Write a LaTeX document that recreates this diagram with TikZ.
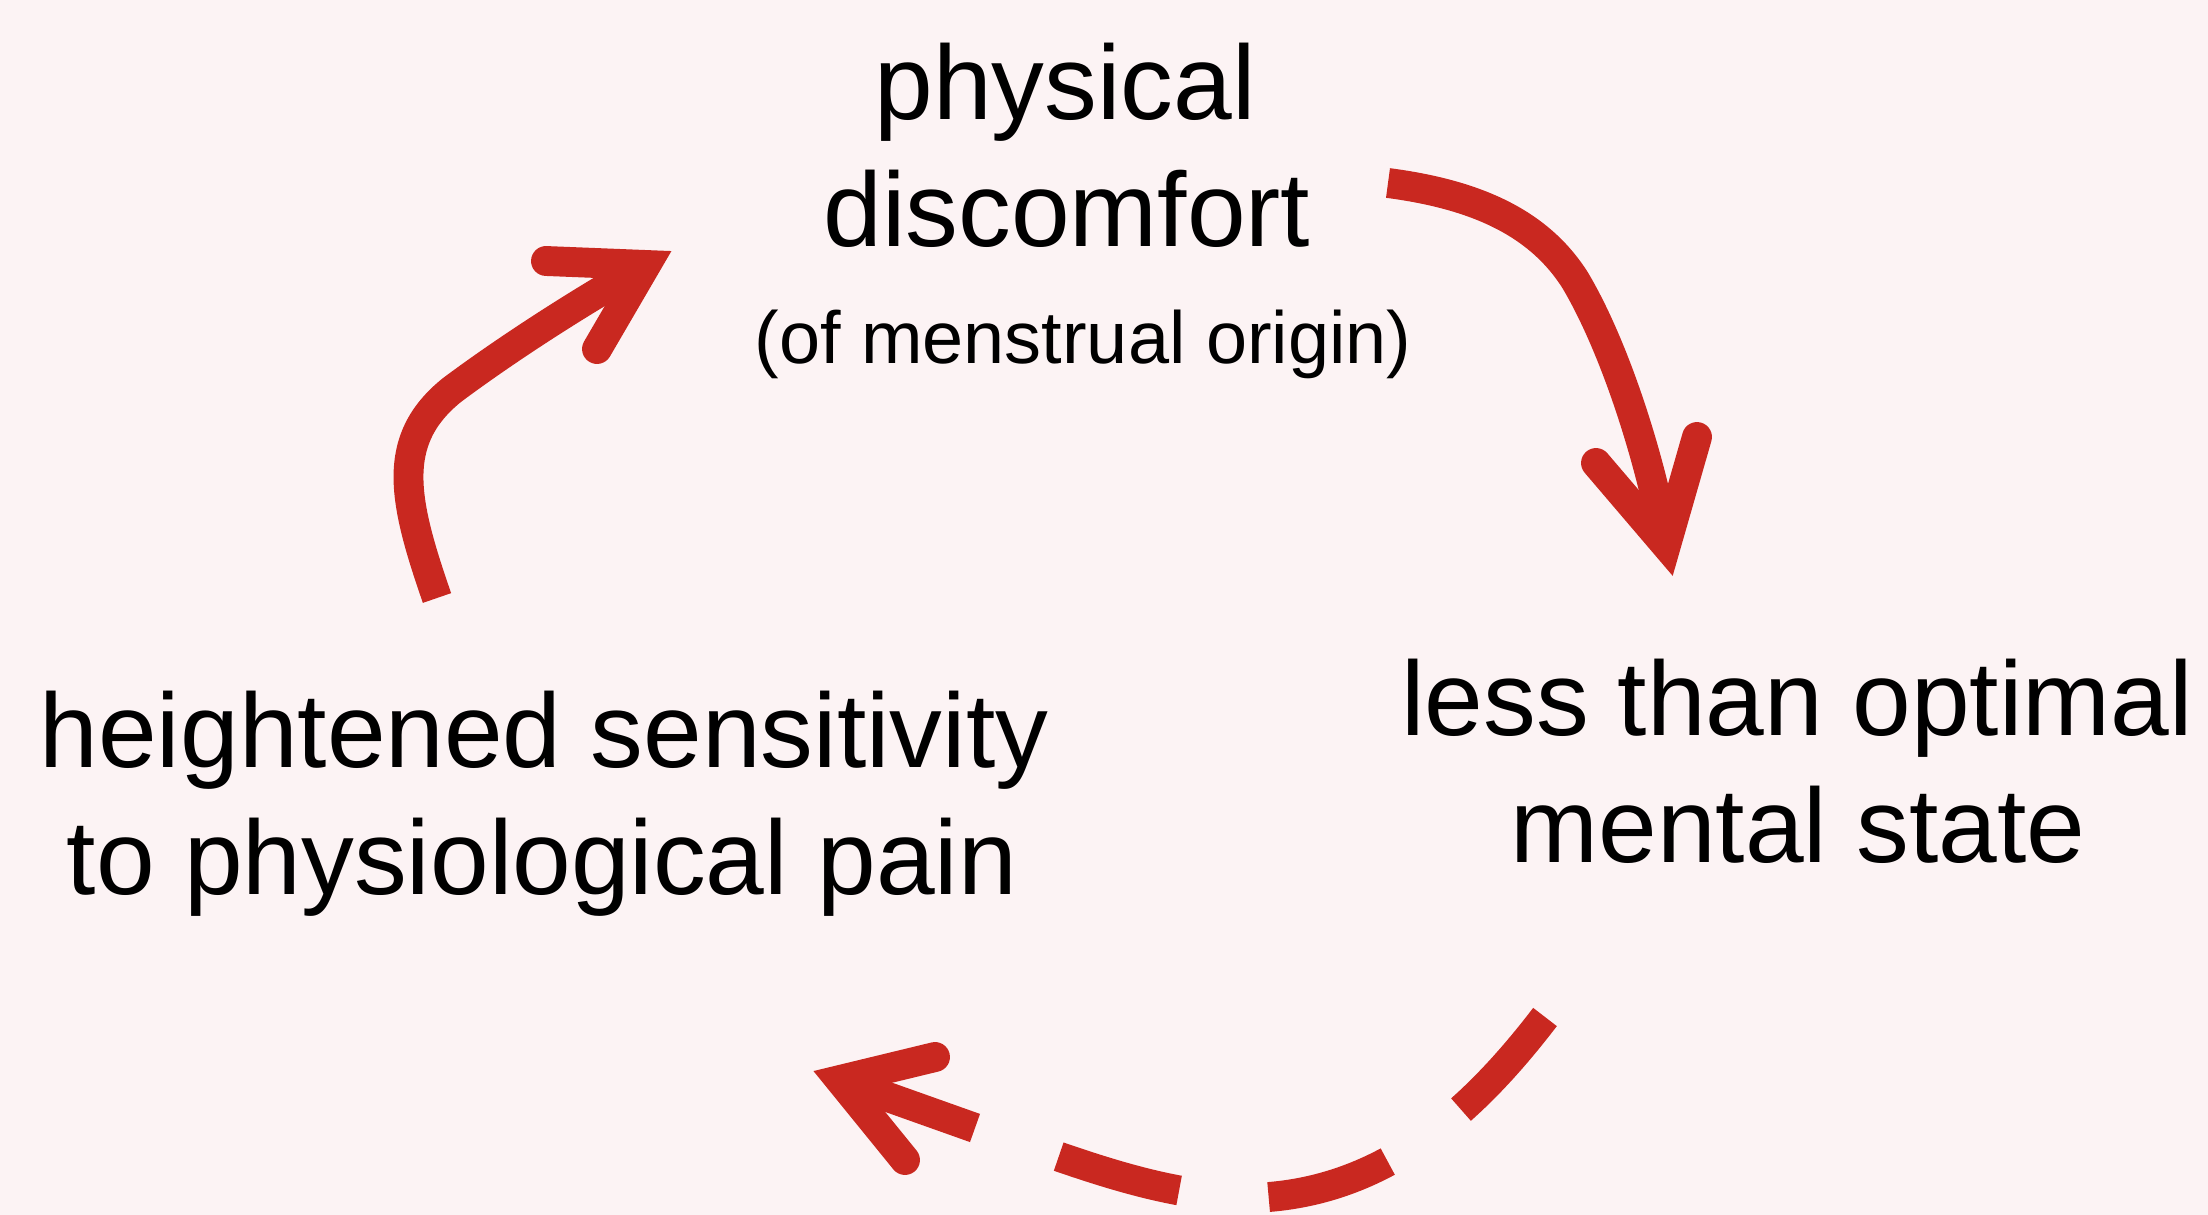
\documentclass[tikz,border=0pt]{standalone}
\usepackage{fontspec}
\setmainfont{Liberation Sans}
\usetikzlibrary{calc}
\definecolor{bgc}{RGB}{252,243,244}
\definecolor{arrowred}{RGB}{201,40,32}
\begin{document}
\begin{tikzpicture}[x=0.01cm,y=-0.01cm,
  lbl/.style={anchor=base,inner sep=0pt,font=\fontsize{30}{36}\selectfont},
  sublbl/.style={anchor=base,inner sep=0pt,font=\fontsize{21}{25}\selectfont},
  shaft/.style={draw=arrowred,line width=8.5pt,line cap=butt},
  headstyle/.style={draw=arrowred,line width=8.5pt,line cap=round,line join=miter},
  dashedshaft/.style={shaft,dash pattern=on 35.6pt off 25.6pt}]
\fill[bgc] (0,0) rectangle (2208,1215);
\useasboundingbox (0,0) rectangle (2208,1215);

% labels
\node[lbl] (top1) at (1065,120) {physical};
\node[lbl] (top2) at (1067,246) {discomfort};
\node[sublbl] (top3) at (1083,363) {(of menstrual origin)};
\node[lbl] (right1) at (1797,735) {less than optimal};
\node[lbl] (right2) at (1798,862) {mental state};
\node[lbl] (left1) at (544,767) {heightened sensitivity};
\node[lbl] (left2) at (542,894) {to physiological pain};

% arrow 1: left, upwards
\coordinate (a1s) at (437,598);
\coordinate (a1v) at (646,265);
\coordinate (a1u) at (546,261);
\coordinate (a1l) at (597,349);
\draw[shaft] (a1s) .. controls (403,500) and (390,440) .. (452,390)
  .. controls (515,343) and (595,293) .. (a1v);
\draw[headstyle] (a1u) -- (a1v) -- (a1l);

% arrow 2: right, downwards
\coordinate (a2s) at (1388,183);
\coordinate (a2v) at (1666,545);
\coordinate (a2u) at (1596,463);
\coordinate (a2l) at (1697,437);
\draw[shaft] (a2s) .. controls (1480,195) and (1540,225) .. (1575,280)
  .. controls (1612,342) and (1648,448) .. (a2v);
\draw[headstyle] (a2u) -- (a2v) -- (a2l);

% arrow 3: bottom, dashed
\coordinate (a3s) at (1545,1017);
\coordinate (a3m) at (975,1128);
\coordinate (a3v) at (840,1080);
\coordinate (a3u) at (935,1057);
\coordinate (a3l) at (905,1160);
\draw[dashedshaft] (a3s) .. controls (1470,1115) and (1380,1195) .. (1250,1198)
  .. controls (1150,1196) and (1060,1155) .. (a3m);
\draw[shaft] (a3m) -- (a3v);
\draw[headstyle] (a3u) -- (a3v) -- (a3l);
\end{tikzpicture}
\end{document}
